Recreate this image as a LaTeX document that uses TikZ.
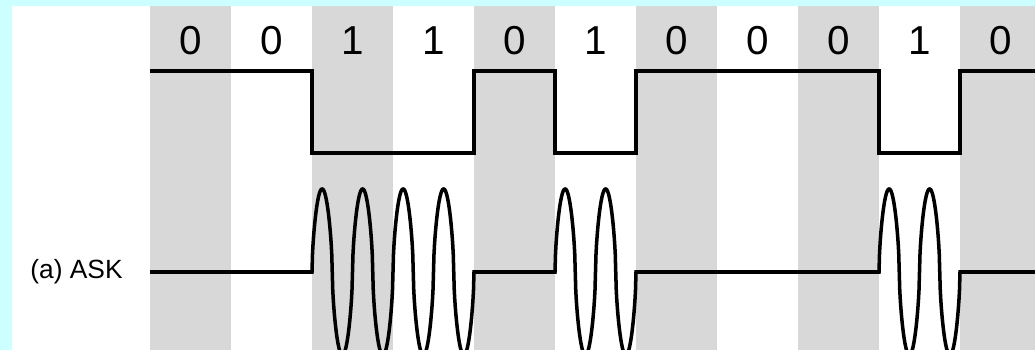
\documentclass[tikz,border=0pt]{standalone}
\usepackage{fontspec}
\setmainfont{Liberation Sans}
\usetikzlibrary{positioning}
\definecolor{frame}{HTML}{CCFFFF}
\definecolor{stripe}{HTML}{D8D8D8}
\tikzset{
    x=0.02cm,
    y=-0.02cm,
    signal/.style={line width=2pt, black},
    bit/.style={inner sep=0pt, font=\fontsize{23}{26}\selectfont},
    caption/.style={inner sep=0pt, anchor=west, font=\fontsize{15}{17}\selectfont},
    % carrier with slightly rounded lobes
    declare function={carrier(\t)=ifthenelse(abs(sin(\t))<0.002, 0,
        sign(sin(\t))*pow(abs(sin(\t)),0.6));},
}

\begin{document}
\begin{tikzpicture}
    \useasboundingbox (0,0) rectangle (1035,350);
    \clip (0,0) rectangle (1035,350);
    \fill[frame] (0,0) rectangle (1035,350);
    \fill[white] (12,6) rectangle (1035,350);

    % one column per bit, every other one shaded
    \foreach \b [count=\i from 0] in {0,0,1,1,0,1,0,0,0,1,0} {
        \pgfmathtruncatemacro{\odd}{mod(\i,2)}
        \ifnum\odd=0
            \fill[stripe] (150+81*\i,6) rectangle (231+81*\i,350);
        \fi
        \node[bit] (bit\i) at (190.5+81*\i,41) {\b};
    }

    % data signal
    \draw[signal] (150,71) -| (312,153) -| (474,71) -| (555,153)
        -| (636,71) -| (879,153) -| (960,71) -- (1035,71);

    % ASK
    \node[caption] (ask) at (30,272) {(a) ASK};
    \draw[signal] (150,272) -- (312,272)
        -- plot[domain=312:474, samples=321] (\x,{272-83*carrier((\x-312)/40.5*360)})
        -- (474,272) -- (555,272)
        -- plot[domain=555:636, samples=161] (\x,{272-83*carrier((\x-555)/40.5*360)})
        -- (636,272) -- (879,272)
        -- plot[domain=879:960, samples=161] (\x,{272-83*carrier((\x-879)/40.5*360)})
        -- (960,272) -- (1035,272);
\end{tikzpicture}
\end{document}
